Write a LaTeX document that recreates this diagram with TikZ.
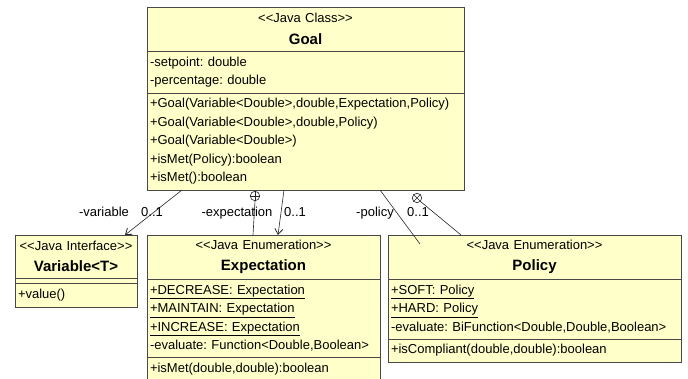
\documentclass[tikz,border=0pt]{standalone}
\usepackage{fontspec}
\usetikzlibrary{positioning,arrows.meta}
\newfontfamily\umlfont{Liberation Sans}
\newcommand{\umltext}{\umlfont\frenchspacing\fontsize{13}{18.5}\selectfont}
\newcommand{\umlname}{\fontsize{15}{18.5}\selectfont\bfseries}
\definecolor{umlfill}{RGB}{255,255,202}
\definecolor{umlline}{RGB}{72,72,72}
\tikzset{
	umlpart/.style={draw=umlline, fill=umlfill, line width=0.8pt, outer sep=0pt, inner xsep=3pt, inner ysep=0pt, font=\umltext, anchor=north west},
	umlhead/.style={umlpart, align=center},
	umlbody/.style={umlpart, align=left},
	umlarrow/.style={draw=black!85, line width=0.6pt, -{Straight Barb[length=5.5pt,width=8pt,line width=0.8pt]}},
	umlline/.style={draw=black!85, line width=0.6pt},
	umlknot/.style={circle, draw=black!85, fill=white, line width=0.6pt, minimum size=9.5pt, inner sep=0pt},
	umllabel/.style={font=\umltext, inner sep=0pt, anchor=base}
}
\begin{document}
\begin{tikzpicture}[x=1pt, y=-1pt]
		\useasboundingbox (0,0) rectangle (688,379);
		\node[umlhead, text width=311pt, minimum height=44pt] (goalhead) at (147,7) {<<Java Class>>\\[3pt]{\umlname Goal}};
		\node[umlbody, text width=311pt, minimum height=42pt, below=0pt of goalhead] (goalattrs) {-setpoint: double\\-percentage: double};
		\node[umlbody, text width=311pt, minimum height=97pt, below=0pt of goalattrs] (goalops) {+Goal(Variable<Double>,double,Expectation,Policy)\\+Goal(Variable<Double>,double,Policy)\\+Goal(Variable<Double>)\\+isMet(Policy):boolean\\+isMet():boolean};

		\node[umlhead, text width=116pt, minimum height=43pt] (varhead) at (15,235) {<<Java Interface>>\\[3pt]{\umlname Variable<T>}};
		\node[umlbody, text width=116pt, minimum height=5pt, below=0pt of varhead] (varattrs) {};
		\node[umlbody, text width=116pt, minimum height=24pt, below=0pt of varattrs] (varops) {+value()};

		\node[umlhead, text width=227pt, minimum height=44pt] (exphead) at (147,235) {<<Java Enumeration>>\\[3pt]{\umlname Expectation}};
		\node[umlbody, text width=227pt, minimum height=78pt, below=0pt of exphead] (expattrs) {\underline{+DECREASE: Expectation}\\\underline{+MAINTAIN: Expectation}\\\underline{+INCREASE: Expectation}\\-evaluate: Function<Double,Boolean>};
		\node[umlbody, text width=227pt, minimum height=24pt, below=0pt of expattrs] (expops) {+isMet(double,double):boolean};

		\node[umlhead, text width=287pt, minimum height=44pt] (polhead) at (388,235) {<<Java Enumeration>>\\[3pt]{\umlname Policy}};
		\node[umlbody, text width=287pt, minimum height=60pt, below=0pt of polhead] (polattrs) {\underline{+SOFT: Policy}\\\underline{+HARD: Policy}\\-evaluate: BiFunction<Double,Double,Boolean>};
		\node[umlbody, text width=287pt, minimum height=23pt, below=0pt of polattrs] (polops) {+isCompliant(double,double):boolean};

		\node[umlknot] (expknot) at (255,196) {};
		\node[umlknot] (polknot) at (417,198) {};
		\draw[umlline] (expknot.north) -- (expknot.south) (expknot.west) -- (expknot.east);
		\draw[umlline] (polknot.north west) -- (polknot.south east) (polknot.north east) -- (polknot.south west);

		\draw[umlarrow] ([xshift=35pt]goalops.south west) -- ([xshift=110pt]varhead.north west);
		\draw[umlarrow] ([xshift=137pt]goalops.south west) -- ([xshift=131pt]exphead.north west);
		\draw[umlline] (expknot.south) -- ([xshift=106pt]exphead.north west);
		\draw[umlline] ([xshift=233pt]goalops.south west) -- ([xshift=32pt,yshift=-9pt]polhead.north west);
		\draw[umlline] (polknot.south east) -- ([xshift=73pt]polhead.north west);

		\node[umllabel] (varrole) at (104,217) {-variable};
		\node[umllabel] (varmult) at (152,217) {0..1};
		\node[umllabel] (exprole) at (237,217) {-expectation};
		\node[umllabel] (expmult) at (295,217) {0..1};
		\node[umllabel] (polrole) at (375,217) {-policy};
		\node[umllabel] (polmult) at (418,217) {0..1};
\end{tikzpicture}
\end{document}
